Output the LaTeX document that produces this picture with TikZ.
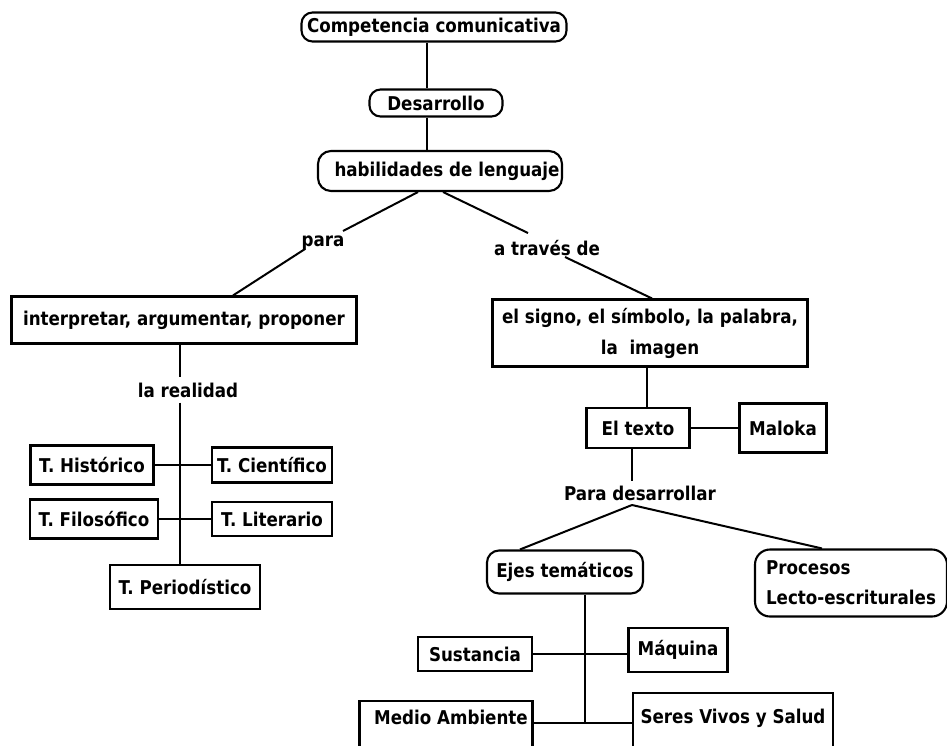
\documentclass[tikz,border=0pt]{standalone}
\usepackage{fontspec}
\setmainfont{DejaVu Sans}[FakeStretch=0.88]
\begin{document}
\begin{tikzpicture}[x=1pt,y=-1pt,
  font=\fontsize{19}{22}\selectfont\bfseries,
  box/.style={draw, line width=2.1pt, inner sep=0pt, align=center},
  rbox/.style={box, rounded corners=11pt},
  lbl/.style={inner sep=1pt},
  link/.style={line width=2pt},
  tie/.style={line width=1.6pt}]
\useasboundingbox (0,0) rectangle (947,745);
\clip (0,0) rectangle (947,745);

% upper chain
\node[rbox, minimum width=265pt, minimum height=29pt] (comp) at (434,27) {Competencia comunicativa};
\node[rbox, minimum width=133pt, minimum height=27pt] (desa) at (436,103) {Desarrollo};
\node[rbox, minimum width=244pt, minimum height=40pt, rounded corners=13pt] (hab) at (440,171) {\hspace*{14pt}habilidades de lenguaje};
\coordinate (vtop) at (427,0);
\draw[link] (comp.south -| vtop) -- (desa.north -| vtop);
\draw[link] (desa.south -| vtop) -- (hab.north -| vtop);

% branch labels
\node[lbl] (para) at (323,243) {para};
\node[lbl] (trav) at (547,248) {a través de};
\coordinate (hL) at (418,192);
\coordinate (pIn) at (343,231);
\coordinate (pOut) at (305,249);
\coordinate (hR) at (443,192);
\coordinate (tIn) at (528,233);
\coordinate (tOut) at (565,257);

% left branch
\node[box, minimum width=345pt, minimum height=47pt] (interp) at (184,320) {interpretar, argumentar, proponer};
\draw[link] (hL) -- (pIn);
\draw[link] (pOut) -- (interp.north -| 233,0);

\node[lbl] (real) at (188,390) {la realidad};
\coordinate (vx) at (180,0);
\draw[link] (interp.south -| vx) -- ([yshift=4pt]real.north -| vx);

\node[box, minimum width=123pt, minimum height=39pt] (hist) at (92,465) {T. Histórico};
\node[box, minimum width=120pt, minimum height=35pt] (cient) at (272,465) {T. Científico};
\node[box, minimum width=128pt, minimum height=39pt] (filo) at (94,519) {T. Filosófico};
\node[box, minimum width=120pt, minimum height=34pt] (lit) at (272,519) {T. Literario};
\node[box, minimum width=150pt, minimum height=44pt] (peri) at (185,587) {T. Periodístico};
\draw[link] ([yshift=-4pt]real.south -| vx) -- (peri.north -| vx);
\draw[tie] (hist.east) -- (cient.west);
\draw[tie] (filo.east) -- (lit.west);

% right branch
\node[box, minimum width=315pt, minimum height=67pt] (signo) at (650,333)
  {el signo, el símbolo, la palabra,\\[9pt] la\ \ imagen};
\draw[link] (hR) -- (tIn);
\draw[link] (tOut) -- (signo.north -| 652,0);

\node[box, minimum width=103pt, minimum height=40pt] (texto) at (638,428) {El texto};
\node[box, minimum width=87pt, minimum height=49pt] (maloka) at (783,428) {Maloka};
\draw[link] (signo.south -| 647,0) -- (texto.north -| 647,0);
\draw[tie] (texto.east) -- (maloka.west);

\node[lbl] (pdes) at (640,493) {Para desarrollar};
\coordinate (vt) at (632,0);
\draw[link] (texto.south -| vt) -- ([yshift=3pt]pdes.north -| vt);

\node[rbox, minimum width=156pt, minimum height=43pt, rounded corners=12pt] (ejes) at (565,572) {Ejes temáticos};
\node[rbox, minimum width=192pt, minimum height=67pt, rounded corners=15pt, align=left] (proc) at (851,583)
  {Procesos\\[8pt]Lecto-escriturales};
\coordinate (fork) at (632,505);
\draw[link] (fork) -- (ejes.north -| 520,0);
\draw[link] (fork) -- (proc.north -| 822,0);

% thematic axes
\node[box, minimum width=114pt, minimum height=34pt] (sus) at (475,654) {Sustancia};
\node[box, minimum width=99pt, minimum height=44pt] (maq) at (678,650) {Máquina};
\node[box, minimum width=173pt, inner ysep=3pt, text height=20pt, text depth=32pt, anchor=north] (medio) at (446,700) {\hspace*{10pt}Medio Ambiente};
\node[box, minimum width=200pt, inner ysep=3pt, text height=27pt, text depth=32pt, anchor=north] (seres) at (733,692) {Seres Vivos y Salud};
\coordinate (jB) at (585,723);
\draw[link] (ejes.south -| jB) -- (jB);
\draw[tie] (sus.east) -- (maq.west |- sus.east);
\draw[tie] (medio.east |- jB) -- (seres.west |- jB);
\end{tikzpicture}
\end{document}
